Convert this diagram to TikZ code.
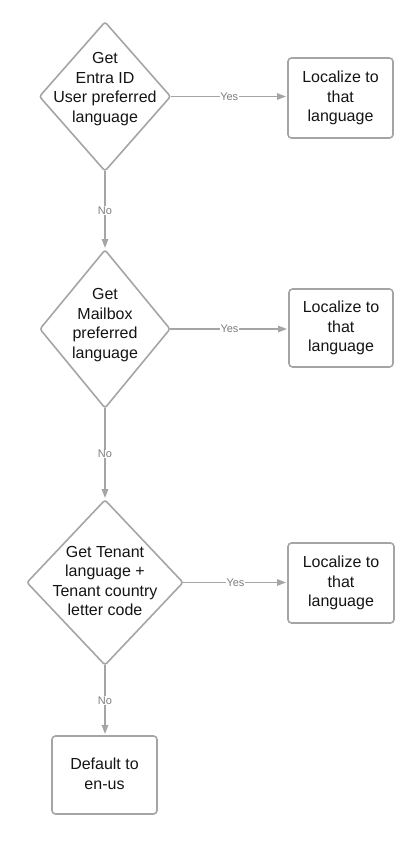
\documentclass[tikz,border=0pt]{standalone}
\usepackage{fontspec}
\setmainfont{Liberation Sans}
\usetikzlibrary{shapes.geometric,arrows.meta}
\definecolor{lc}{RGB}{165,165,165}
\definecolor{lbl}{RGB}{125,125,125}
\definecolor{tx}{RGB}{20,20,20}
\tikzset{
  diam/.style={shape=diamond, draw=lc, line width=1.6pt, rounded corners=2.5pt, inner sep=0pt, outer sep=0pt},
  boxnode/.style={draw=lc, line width=1.6pt, rounded corners=3.5pt, inner sep=0pt, outer sep=0pt, minimum width=105pt, minimum height=79pt},
  txt/.style={text=tx, align=center, font=\fontsize{16}{19.5}\selectfont, inner sep=0pt},
  conn/.style={draw=lc, line width=1.4pt, -{Triangle[length=9pt,width=6.5pt]}, shorten >=2pt},
  lab/.style={fill=white, text=lbl, font=\fontsize{11}{12}\selectfont, inner sep=0.5pt}
}
\begin{document}
\begin{tikzpicture}[x=1pt,y=-1pt]
\useasboundingbox (0,0) rectangle (420,841);
% diamonds
\node[diam, minimum width=131pt, minimum height=149pt] (d1) at (105,96.5) {};
\node[txt] (d1t) at (105,89) {Get\\Entra ID\\User preferred\\language};
\node[diam, minimum width=130pt, minimum height=158pt] (d2) at (105,329) {};
\node[txt] (d2t) at (105,325) {Get\\Mailbox\\preferred\\language};
\node[diam, minimum width=156pt, minimum height=165pt] (d3) at (105,582.5) {};
\node[txt] (d3t) at (105,581) {Get Tenant\\language +\\Tenant country\\letter code};
% boxes
\node[boxnode, minimum height=80pt] (b1) at (340.5,98) {};
\node[txt] (b1t) at (b1) {Localize to\\that\\language};
\node[boxnode, minimum width=104pt, minimum height=78pt] (b2) at (341,328) {};
\node[txt] (b2t) at (b2) {Localize to\\that\\language};
\node[boxnode, minimum width=106pt, minimum height=80pt] (b3) at (341,583) {};
\node[txt] (b3t) at (b3) {Localize to\\that\\language};
\node[boxnode, minimum width=105pt, minimum height=78pt] (b4) at (104.5,775) {};
\node[txt] (b4t) at (104.5,774) {Default to\\en-us};
% connectors
\draw[conn] (d1.east) -- node[lab] {Yes} (b1.west |- d1.east);
\draw[conn] (d2.east) -- node[lab] {Yes} (b2.west |- d2.east);
\draw[conn] (d3.east) -- node[lab] {Yes} (b3.west |- d3.east);
\draw[conn] (d1.south) -- node[lab] {No} (d2.north);
\draw[conn] (d2.south) -- node[lab] {No} (d3.north);
\draw[conn] (d3.south) -- node[lab] {No} (b4.north -| d3.south);
\end{tikzpicture}
\end{document}
